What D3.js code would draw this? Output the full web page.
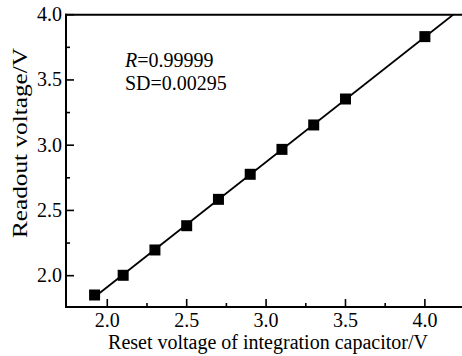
<!DOCTYPE html>
<html>
<head>
<meta charset="utf-8">
<script src="https://cdn.jsdelivr.net/npm/d3@7"></script>
<style>
  html, body { margin: 0; padding: 0; background: #fff; }
  svg text { font-family: "Liberation Serif", "Times New Roman", serif; fill: #000; }
</style>
</head>
<body>
<svg id="svg" width="462" height="356"></svg>
<script>
const w = 462;
const h = 356;

// data
const resetVoltage = [1.92, 2.1, 2.3, 2.5, 2.7, 2.9, 3.1, 3.3, 3.5, 4.0];
const readoutVoltage = [1.852, 2.003, 2.197, 2.383, 2.585, 2.777, 2.968, 3.155, 3.354, 3.832];
const xTicks = [2.0, 2.5, 3.0, 3.5, 4.0];
const yTicks = [2.0, 2.5, 3.0, 3.5, 4.0];
const xMinor = [2.25, 2.75, 3.25, 3.75];
const yMinor = [2.25, 2.75, 3.25, 3.75];
const notes = [["R", "=0.99999"], ["SD=0.00295", ""]];

const padLeft = 66, padRight = 463, padTop = 14.7, padBottom = 307;
const fs = 20;

let svg = d3.select("#svg");

let xScale = d3.scaleLinear([1.74, 4.24], [padLeft, padRight]);
let yScale = d3.scaleLinear([1.76, 4.0], [padBottom, padTop]);

svg.append("clipPath")
  .attr("id", "plot-area")
  .append("rect")
  .attr("x", padLeft)
  .attr("y", padTop)
  .attr("width", padRight - padLeft)
  .attr("height", padBottom - padTop);

// least squares fit line
const n = resetVoltage.length;
const mx = d3.mean(resetVoltage);
const my = d3.mean(readoutVoltage);
let sxy = 0, sxx = 0;
for (let i = 0; i < n; i++) {
  sxy += (resetVoltage[i] - mx) * (readoutVoltage[i] - my);
  sxx += (resetVoltage[i] - mx) ** 2;
}
const slope = sxy / sxx;
const icept = my - slope * mx;
const fitX = [d3.min(resetVoltage), xScale.domain()[1]];

svg.append("path")
  .datum(fitX.map((x) => [x, icept + slope * x]))
  .attr("clip-path", "url(#plot-area)")
  .attr("fill", "none")
  .attr("stroke", "black")
  .attr("stroke-width", 1.8)
  .attr("d", d3.line().x((d) => xScale(d[0])).y((d) => yScale(d[1])));

// square markers
const ms = 11;
svg.selectAll("rect.pt")
  .data(resetVoltage)
  .join("rect")
  .attr("class", "pt")
  .attr("x", (d) => xScale(d) - ms / 2)
  .attr("y", (d, i) => yScale(readoutVoltage[i]) - ms / 2)
  .attr("width", ms)
  .attr("height", ms)
  .attr("fill", "black");

// frame: left, bottom, top
const frame = svg.append("g").attr("stroke", "black").attr("stroke-width", 2).attr("fill", "none");
frame.append("line").attr("x1", padLeft).attr("x2", padLeft).attr("y1", padTop - 1).attr("y2", padBottom + 1);
frame.append("line").attr("x1", padLeft - 1).attr("x2", w).attr("y1", padBottom).attr("y2", padBottom);
frame.append("line").attr("x1", padLeft - 1).attr("x2", w).attr("y1", padTop).attr("y2", padTop);

// inward ticks
const tk = svg.append("g").attr("stroke", "black").attr("stroke-width", 1.6);
xTicks.forEach((v) => tk.append("line").attr("x1", xScale(v)).attr("x2", xScale(v)).attr("y1", padBottom).attr("y2", padBottom - 8));
xMinor.forEach((v) => tk.append("line").attr("x1", xScale(v)).attr("x2", xScale(v)).attr("y1", padBottom).attr("y2", padBottom - 4));
yTicks.forEach((v) => tk.append("line").attr("y1", yScale(v)).attr("y2", yScale(v)).attr("x1", padLeft).attr("x2", padLeft + 8));
yMinor.forEach((v) => tk.append("line").attr("y1", yScale(v)).attr("y2", yScale(v)).attr("x1", padLeft).attr("x2", padLeft + 4));

// tick labels
svg.selectAll("text.xt")
  .data(xTicks)
  .join("text")
  .attr("class", "xt")
  .attr("x", (d) => xScale(d))
  .attr("y", 326.5)
  .attr("text-anchor", "middle")
  .attr("font-size", fs)
  .text((d) => d.toFixed(1));

svg.selectAll("text.yt")
  .data(yTicks)
  .join("text")
  .attr("class", "yt")
  .attr("x", padLeft - 4)
  .attr("y", (d) => yScale(d) + 6.5)
  .attr("text-anchor", "end")
  .attr("font-size", fs)
  .text((d) => d.toFixed(1));

// axis titles
svg.append("text")
  .attr("x", 268)
  .attr("y", 349)
  .attr("text-anchor", "middle")
  .attr("font-size", fs)
  .text("Reset voltage of integration capacitor/V");

// the vertical title is drawn longer than its glyph height suggests
svg.append("text")
  .attr("transform", `translate(27,143) rotate(-90)`)
  .attr("x", -95)
  .attr("font-size", fs)
  .attr("textLength", 190)
  .attr("lengthAdjust", "spacingAndGlyphs")
  .text("Readout voltage/V");

// annotations
const t1 = svg.append("text").attr("x", 125).attr("y", 67).attr("font-size", fs);
t1.append("tspan").attr("font-style", "italic").text(notes[0][0]);
t1.append("tspan").text(notes[0][1]);
svg.append("text").attr("x", 125).attr("y", 90).attr("font-size", fs).text(notes[1][0]);
</script>
</body>
</html>
